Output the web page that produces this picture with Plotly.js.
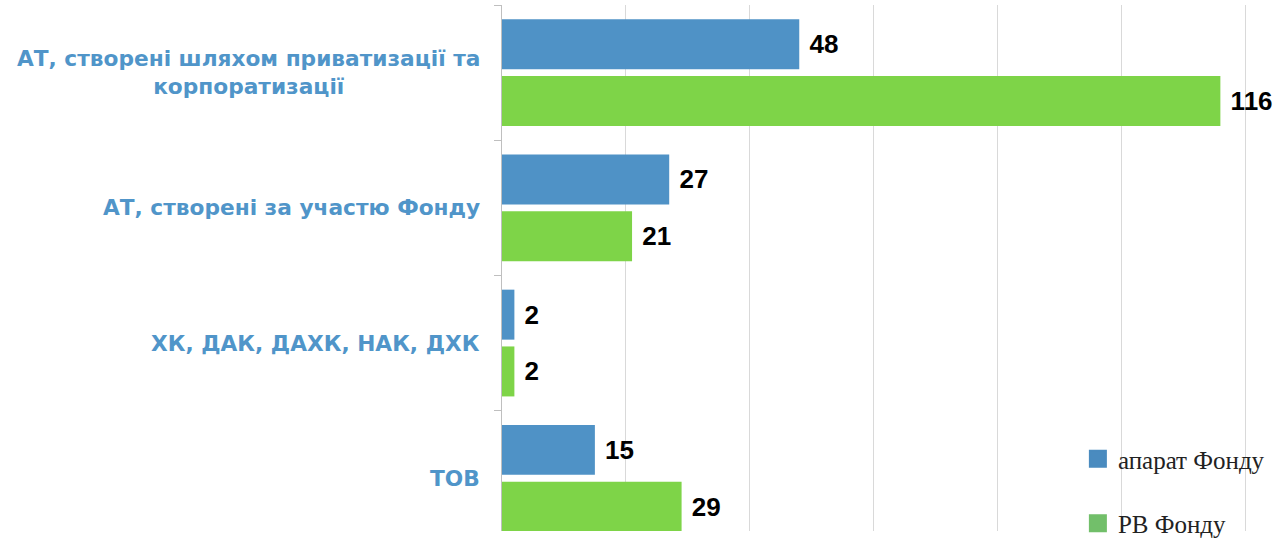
<!DOCTYPE html>
<html>
<head>
<meta charset="utf-8">
<script src="https://cdn.plot.ly/plotly-3.0.1.min.js"></script>
<style>html,body{margin:0;padding:0;background:#fff;}#chart{width:1285px;height:546px;}</style>
</head>
<body>
<div id="chart"></div>
<script>
const categories = ["AT_priv", "AT_fond", "HK", "TOV"];
const categoryLabels = [
  "АТ, створені шляхом приватизації та<br>корпоратизації",
  "АТ, створені за участю Фонду",
  "ХК, ДАК, ДАХК, НАК, ДХК",
  "ТОВ"
];
const seriesNames = ["апарат Фонду", "РВ Фонду"];
const aparatValues = [48, 27, 2, 15];
const rvValues = [116, 21, 2, 29];

const barColors = ["#4F92C6", "#7ED448"];
const legendColors = ["#4A8BBF", "#72BF6A"];
const NB = "\u00a0";

const barCommon = {
  type: "bar",
  orientation: "h",
  y: categories,
  showlegend: false,
  textposition: "outside",
  texttemplate: NB + "%{x}",
  cliponaxis: false,
  constraintext: "none",
  textfont: {family: "Liberation Sans, Arial, sans-serif", size: 26, color: "#000", weight: 700},
  hoverinfo: "skip"
};

const data = [
  Object.assign({}, barCommon, {name: seriesNames[0], x: aparatValues, marker: {color: barColors[0]}}),
  Object.assign({}, barCommon, {name: seriesNames[1], x: rvValues, marker: {color: barColors[1]}}),
  {type: "scatter", mode: "markers", x: [null], y: [null], name: seriesNames[0], legendgroup: "a",
   marker: {symbol: "square", size: 16, color: legendColors[0], line: {color: legendColors[0], width: 2}}},
  {type: "scatter", mode: "markers", x: [null], y: [null], name: seriesNames[1], legendgroup: "b",
   marker: {symbol: "square", size: 16, color: legendColors[1], line: {color: legendColors[1], width: 2}}}
];

const annotations = categories.map((c, i) => ({
  xref: "paper", yref: "y", x: 0, y: c,
  xanchor: "right", yanchor: "middle", xshift: -20,
  align: "center", showarrow: false,
  text: categoryLabels[i],
  font: {family: "DejaVu Sans, Verdana, sans-serif", size: 21.7, color: "#5095C9", weight: 700}
}));

const layout = {
  width: 1285, height: 546,
  margin: {l: 502, r: 38, t: 5, b: 0, pad: 0},
  paper_bgcolor: "#fff", plot_bgcolor: "#fff",
  barmode: "group", bargap: 0.16, bargroupgap: 0.12,
  xaxis: {
    range: [0, 120.3], dtick: 20, tick0: 0,
    showgrid: true, gridcolor: "#d9d9d9", gridwidth: 1,
    zeroline: false, showticklabels: false, ticks: "", showline: false, fixedrange: true
  },
  yaxis: {
    type: "category", categoryarray: categories, categoryorder: "array",
    range: [3.39, -0.5],
    showticklabels: false, tickson: "boundaries", ticks: "outside", ticklen: 7,
    tickcolor: "#bfbfbf", showline: true, linecolor: "#bfbfbf", linewidth: 1,
    showgrid: false, zeroline: false, fixedrange: true
  },
  legend: {
    x: 0.773, xanchor: "left", y: 0.18, yanchor: "top",
    bgcolor: "rgba(0,0,0,0)", tracegroupgap: 29, traceorder: "grouped",
    font: {family: "Liberation Serif, Times New Roman, serif", size: 25, color: "#222"}
  },
  annotations: annotations,
  showlegend: true
};

Plotly.newPlot("chart", data, layout, {displayModeBar: false, staticPlot: true});
</script>
</body>
</html>
